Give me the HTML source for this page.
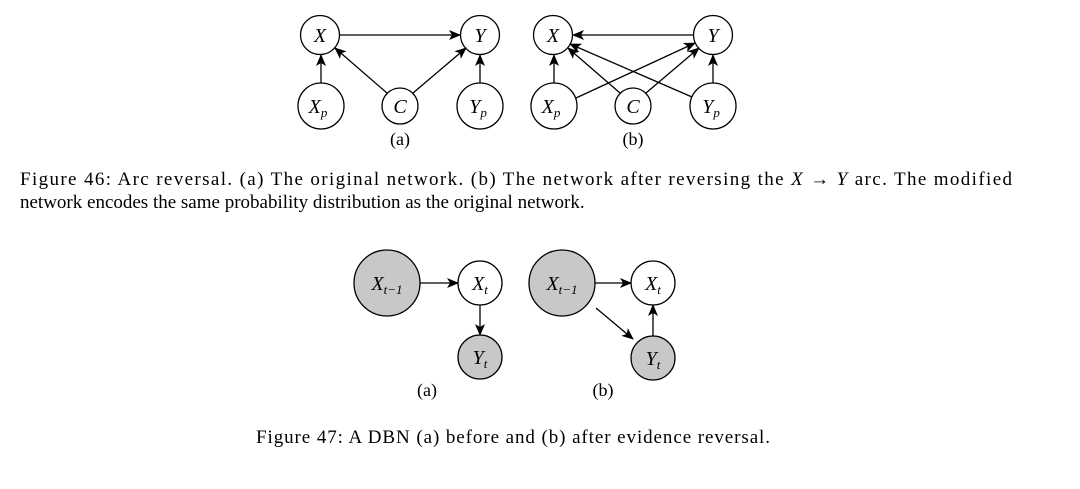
<!DOCTYPE html>
<html><head><meta charset="utf-8"><style>
html,body{margin:0;padding:0;background:#fff;}
svg{display:block;}
text{font-family:"Liberation Serif",serif;fill:#000;}
.m{font-style:italic;font-size:20px;}
.s{font-style:italic;font-size:13px;}
</style></head><body>
<svg width="1080" height="489" viewBox="0 0 1080 489" xmlns="http://www.w3.org/2000/svg">
<defs>
<marker id="a" viewBox="0 0 12 10" refX="11" refY="5" markerWidth="12" markerHeight="10" markerUnits="userSpaceOnUse" orient="auto">
<path d="M0,0 L12,5 L0,10 L3,5 z" fill="#000"/></marker>
</defs>
<g stroke="#000" stroke-width="1.3" fill="#fff">
<circle cx="320" cy="35" r="19.5"/><circle cx="480" cy="35" r="19.5"/>
<circle cx="321" cy="106" r="23"/><circle cx="400" cy="106" r="18"/><circle cx="480" cy="106" r="23"/>
<circle cx="553" cy="35" r="19.5"/><circle cx="713" cy="35" r="19.5"/>
<circle cx="554" cy="106" r="23"/><circle cx="633" cy="106" r="18"/><circle cx="713" cy="106" r="23"/>
<circle cx="387" cy="283" r="33" fill="#c8c8c8"/><circle cx="480" cy="283" r="22"/><circle cx="480" cy="357" r="22" fill="#c8c8c8"/>
<circle cx="562" cy="283" r="33" fill="#c8c8c8"/><circle cx="653" cy="283" r="22"/><circle cx="653" cy="358" r="22" fill="#c8c8c8"/>
</g>
<g stroke="#000" stroke-width="1.3" fill="none" marker-end="url(#a)">
<line x1="340" y1="35" x2="460" y2="35"/>
<line x1="321" y1="83" x2="321" y2="55"/>
<line x1="387" y1="93" x2="335" y2="48"/>
<line x1="413" y1="93" x2="466" y2="48"/>
<line x1="480" y1="83" x2="480" y2="55"/>
<line x1="693" y1="35" x2="573" y2="35"/>
<line x1="554" y1="83" x2="554" y2="55"/>
<line x1="620" y1="93" x2="568" y2="48"/>
<line x1="692" y1="97" x2="570" y2="44"/>
<line x1="576" y1="98" x2="695" y2="43"/>
<line x1="646" y1="93" x2="699" y2="48"/>
<line x1="713" y1="83" x2="713" y2="55"/>
<line x1="420" y1="283" x2="458" y2="283"/>
<line x1="480" y1="305" x2="480" y2="335"/>
<line x1="595" y1="283" x2="631" y2="283"/>
<line x1="596" y1="308" x2="633" y2="339"/>
<line x1="653" y1="336" x2="653" y2="305"/>
</g>
<g text-anchor="middle">
<text class="m" x="320" y="42">X</text><text class="m" x="480" y="42">Y</text>
<text class="m" x="318" y="113">X<tspan class="s" dy="4">p</tspan></text>
<text class="m" x="400" y="113">C</text>
<text class="m" x="478" y="113">Y<tspan class="s" dy="4">p</tspan></text>
<text class="m" x="553" y="42">X</text><text class="m" x="713" y="42">Y</text>
<text class="m" x="551" y="113">X<tspan class="s" dy="4">p</tspan></text>
<text class="m" x="633" y="113">C</text>
<text class="m" x="711" y="113">Y<tspan class="s" dy="4">p</tspan></text>
<text style="font-size:18px" x="400" y="145">(a)</text>
<text style="font-size:18px" x="633" y="145">(b)</text>
<text class="m" x="387" y="290">X<tspan class="s" dy="4">t−1</tspan></text>
<text class="m" x="480" y="290">X<tspan class="s" dy="4">t</tspan></text>
<text class="m" x="480" y="364">Y<tspan class="s" dy="4">t</tspan></text>
<text class="m" x="562" y="290">X<tspan class="s" dy="4">t−1</tspan></text>
<text class="m" x="653" y="290">X<tspan class="s" dy="4">t</tspan></text>
<text class="m" x="653" y="365">Y<tspan class="s" dy="4">t</tspan></text>
<text style="font-size:18px" x="427" y="396">(a)</text>
<text style="font-size:18px" x="603" y="396">(b)</text>
</g>
<text x="20" y="185" style="font-size:19px" textLength="992" lengthAdjust="spacing">Figure 46: Arc reversal. (a) The original network. (b) The network after reversing the <tspan font-style="italic">X</tspan> → <tspan font-style="italic">Y</tspan> arc. The modified</text>
<text x="20" y="208" style="font-size:19px">network encodes the same probability distribution as the original network.</text>
<text x="256" y="443" style="font-size:19px" textLength="514" lengthAdjust="spacing">Figure 47: A DBN (a) before and (b) after evidence reversal.</text>
</svg>
</body></html>
